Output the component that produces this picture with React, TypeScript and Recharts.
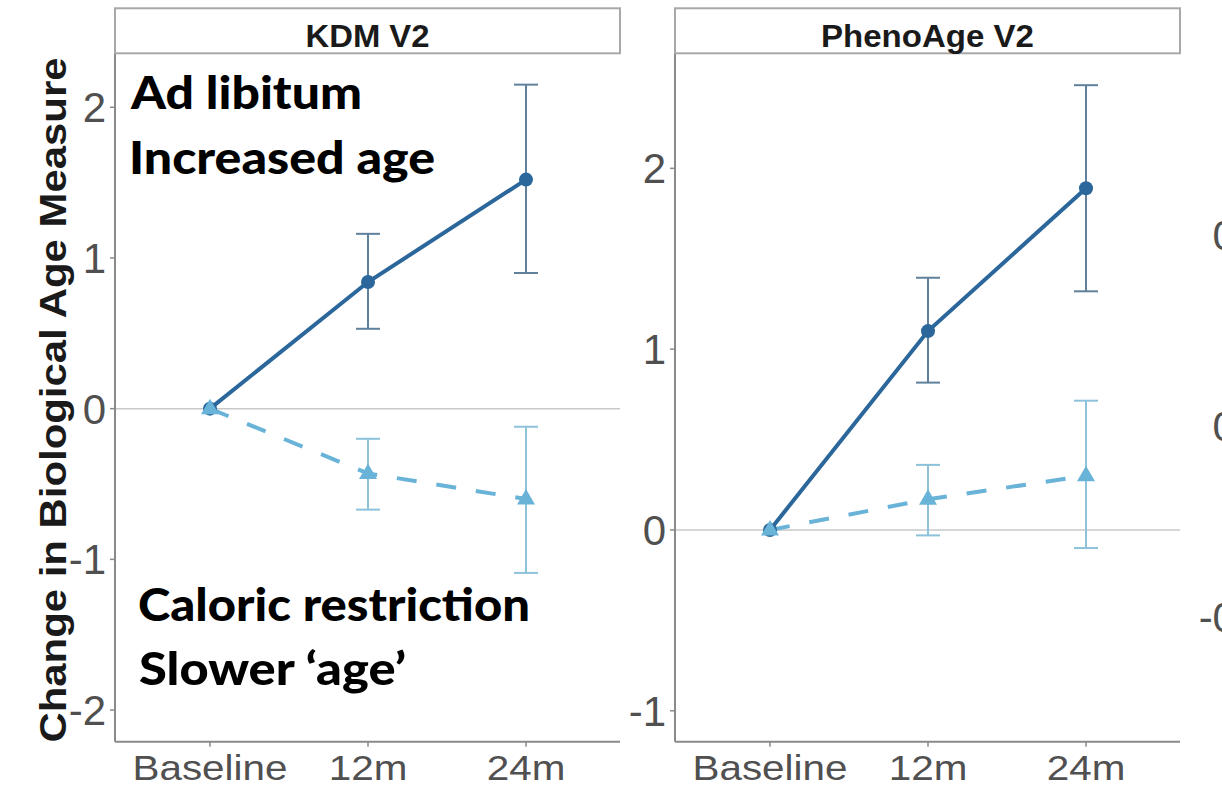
import React from 'react';
import { LineChart, Line, XAxis, YAxis, ErrorBar, ReferenceLine } from 'recharts';

// ---------------- data ----------------
const timepoints = ['Baseline', '12m', '24m'];

// KDM V2 panel
const kdmAdLibMean = [0, 0.84, 1.52];
const kdmAdLibLow = [null, 0.53, 0.9];
const kdmAdLibHigh = [null, 1.16, 2.15];
const kdmCalResMean = [0, -0.43, -0.6];
const kdmCalResLow = [null, -0.67, -1.09];
const kdmCalResHigh = [null, -0.2, -0.12];

// PhenoAge V2 panel
const phenoAdLibMean = [0, 1.1, 1.89];
const phenoAdLibLow = [null, 0.815, 1.32];
const phenoAdLibHigh = [null, 1.395, 2.46];
const phenoCalResMean = [0, 0.17, 0.3];
const phenoCalResLow = [null, -0.03, -0.1];
const phenoCalResHigh = [null, 0.36, 0.715];

// tick labels
const kdmTicks = [-2, -1, 0, 1, 2];
const phenoTicks = [-1, 0, 1, 2];
const thirdPanelTicks = [-0.5, 0, 0.5];

const panelTitles = ['KDM V2', 'PhenoAge V2'];
const yTitle = 'Change in Biological Age Measure';
const adLibText = ['Ad libitum', 'Increased age'];
const calResText = ['Caloric restriction', 'Slower \u2018age\u2019'];

// ---------------- helpers ----------------
type N = number | null;
function buildRows(alM: N[], alL: N[], alH: N[], crM: N[], crL: N[], crH: N[]) {
  return timepoints.map((t, i) => ({
    time: t,
    al: alM[i],
    alErr: alL[i] == null ? null : [(alM[i] as number) - (alL[i] as number), (alH[i] as number) - (alM[i] as number)],
    cr: crM[i],
    crErr: crL[i] == null ? null : [(crM[i] as number) - (crL[i] as number), (crH[i] as number) - (crM[i] as number)],
  }));
}

const kdmRows = buildRows(kdmAdLibMean, kdmAdLibLow, kdmAdLibHigh, kdmCalResMean, kdmCalResLow, kdmCalResHigh);
const phenoRows = buildRows(phenoAdLibMean, phenoAdLibLow, phenoAdLibHigh, phenoCalResMean, phenoCalResLow, phenoCalResHigh);
const emptyRows = timepoints.map((t) => ({ time: t }));

const SANS = '"Liberation Sans", Arial, Helvetica, sans-serif';
const DARK = '#2b679b';
const LIGHT = '#69b3d8';
const AXIS = '#8a8a8a';
const TICKTXT = '#505050';

const fmtInt = (v: number) => String(v);
const fmtOne = (v: number) => v.toFixed(1);

const makeYTick = (fmt: (v: number) => string) => (props: any) => {
  const { x, y, payload } = props;
  return (
    <text x={x} y={y} dy={15} textAnchor="end" fontSize={42} fill={TICKTXT} fontFamily={SANS}>
      {fmt(payload.value)}
    </text>
  );
};

const XTick = (props: any) => {
  const { x, y, payload } = props;
  return (
    <g transform={`translate(${x},${y})`}>
      <text transform="scale(1.155,1)" x={0} y={31} textAnchor="middle" fontSize={35} fill={TICKTXT} fontFamily={SANS}>
        {payload.value}
      </text>
    </g>
  );
};

const Triangle = (props: any) => {
  const { cx, cy } = props;
  if (cx == null || cy == null) return null;
  return <polygon points={`${cx},${cy - 10} ${cx - 9},${cy + 5.5} ${cx + 9},${cy + 5.5}`} fill={LIGHT} stroke="none" />;
};

const CHART_H = 786;
const MARGIN_TOP = 53;
const MARGIN_BOTTOM = 14.3;

function Panel({ rows, ticks, domain, left, width, marginLeft }: any) {
  return (
    <div style={{ position: 'absolute', left, top: 0 }}>
      <LineChart
        width={width}
        height={CHART_H}
        data={rows}
        margin={{ top: MARGIN_TOP, right: 20, bottom: MARGIN_BOTTOM, left: marginLeft }}
      >
        <XAxis
          dataKey="time"
          type="category"
          padding={{ left: 95, right: 94 }}
          height={30}
          axisLine={{ stroke: AXIS, strokeWidth: 2 }}
          tickLine={{ stroke: AXIS, strokeWidth: 1.5 }}
          tickSize={5}
          tickMargin={2}
          tick={<XTick />}
          interval={0}
        />
        <YAxis
          type="number"
          domain={domain}
          ticks={ticks}
          allowDataOverflow
          width={60}
          interval={0}
          axisLine={{ stroke: AXIS, strokeWidth: 2 }}
          tickLine={{ stroke: AXIS, strokeWidth: 1.5 }}
          tickSize={5}
          tickMargin={4}
          tick={makeYTick(fmtInt)}
        />
        <ReferenceLine y={0} stroke="#c8c8c8" strokeWidth={1.5} />
        <Line
          dataKey="al"
          stroke={DARK}
          strokeWidth={4}
          dot={{ r: 7, fill: DARK, stroke: DARK, strokeWidth: 0 }}
          activeDot={false}
          isAnimationActive={false}
        >
          <ErrorBar dataKey="alErr" width={12} stroke="#5f819c" strokeWidth={2} direction="y" />
        </Line>
        <Line
          dataKey="cr"
          stroke={LIGHT}
          strokeWidth={4}
          strokeDasharray="20 20"
          dot={<Triangle />}
          activeDot={false}
          isAnimationActive={false}
        >
          <ErrorBar dataKey="crErr" width={12} stroke="#8dc2db" strokeWidth={2} direction="y" />
        </Line>
      </LineChart>
    </div>
  );
}

function ThirdPanelAxis() {
  return (
    <div style={{ position: 'absolute', left: 1180, top: 0 }}>
      <LineChart
        width={260}
        height={CHART_H}
        data={emptyRows}
        margin={{ top: MARGIN_TOP, right: 20, bottom: MARGIN_BOTTOM, left: 40 }}
      >
        <XAxis dataKey="time" type="category" height={30} axisLine={false} tickLine={false} tick={false} />
        <YAxis
          type="number"
          domain={[-0.826, 0.976]}
          ticks={thirdPanelTicks}
          allowDataOverflow
          width={60}
          interval={0}
          axisLine={{ stroke: AXIS, strokeWidth: 2 }}
          tickLine={{ stroke: AXIS, strokeWidth: 1.5 }}
          tickSize={5}
          tickMargin={4}
          tick={makeYTick(fmtOne)}
        />
      </LineChart>
    </div>
  );
}

export default function App() {
  return (
    <div
      style={{
        position: 'absolute',
        left: 0,
        top: 0,
        width: 1222,
        height: 786,
        overflow: 'hidden',
        background: '#ffffff',
      }}
    >
      <Panel rows={kdmRows} ticks={kdmTicks} domain={[-2.21, 2.36]} left={0} width={640} marginLeft={55} />
      <Panel rows={phenoRows} ticks={phenoTicks} domain={[-1.171, 2.638]} left={600} width={600} marginLeft={15} />
      <ThirdPanelAxis />
      <svg
        width={1222}
        height={786}
        style={{ position: 'absolute', left: 0, top: 0, pointerEvents: 'none' }}
      >
        {/* facet strips */}
        <rect x={115} y={8.3} width={505} height={45} fill="#ffffff" stroke="#a8a8a8" strokeWidth={2} />
        <text x={367.5} y={47} textAnchor="middle" fontSize={31} fontWeight="bold" fill="#1a1a1a" fontFamily={SANS}
          textLength={124} lengthAdjust="spacingAndGlyphs">
          {panelTitles[0]}
        </text>
        <rect x={675} y={8.3} width={505} height={45} fill="#ffffff" stroke="#a8a8a8" strokeWidth={2} />
        <text x={927.5} y={47} textAnchor="middle" fontSize={31} fontWeight="bold" fill="#1a1a1a" fontFamily={SANS}
          textLength={213} lengthAdjust="spacingAndGlyphs">
          {panelTitles[1]}
        </text>

        {/* y-axis title */}
        <text
          transform="translate(66,400) rotate(-90)"
          x={0}
          y={0}
          textAnchor="middle"
          fontSize={37}
          fontWeight="bold"
          fill="#1a1a1a"
          fontFamily={SANS}
          textLength={685}
          lengthAdjust="spacingAndGlyphs"
        >
          {yTitle}
        </text>

        {/* annotations */}
        <g fontFamily='Lato, "Open Sans", sans-serif' fontWeight={900} fontSize={46} fill="#000000">
          <text x={131} y={109} textLength={231} lengthAdjust="spacingAndGlyphs">{adLibText[0]}</text>
          <text x={129} y={174} textLength={306} lengthAdjust="spacingAndGlyphs">{adLibText[1]}</text>
          <text x={138} y={621} textLength={392} lengthAdjust="spacingAndGlyphs">{calResText[0]}</text>
          <text x={139} y={685} textLength={267} lengthAdjust="spacingAndGlyphs">{calResText[1]}</text>
        </g>
      </svg>
    </div>
  );
}
